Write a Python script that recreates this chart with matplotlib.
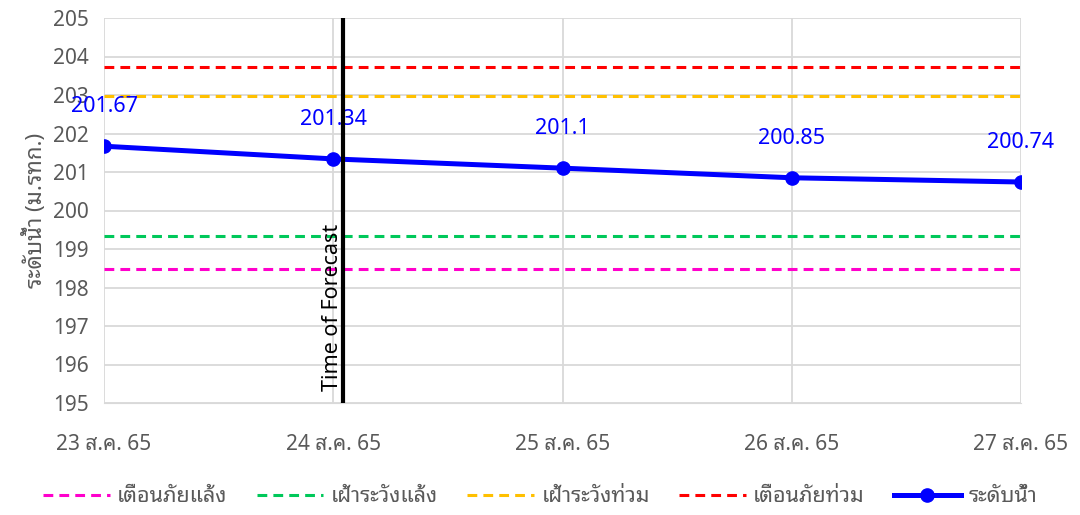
import matplotlib
matplotlib.use('Agg')
import matplotlib.pyplot as plt
import pandas as pd

# dates and water level
dates = ['2022-08-23', '2022-08-24', '2022-08-25', '2022-08-26', '2022-08-27']
date_labels = ['23 ส.ค. 65', '24 ส.ค. 65', '25 ส.ค. 65', '26 ส.ค. 65', '27 ส.ค. 65']
water_level = [201.67, 201.34, 201.1, 200.85, 200.74]
value_labels = ['201.67', '201.34', '201.1', '200.85', '200.74']

# threshold levels
drought_warning = 198.48
drought_watch = 199.34
flood_watch = 202.97
flood_warning = 203.73

forecast_time = '2022-08-24 01:00'

plt.rcParams['font.family'] = ['Noto Sans', 'Noto Sans Thai Looped', 'DejaVu Sans']
gray = '#595959'

x = pd.to_datetime(dates)
fig = plt.figure(figsize=(10.8, 5.15), dpi=100)
ax = fig.add_axes([104 / 1080, 112 / 515, 917 / 1080, 385 / 515])

dash = (3.2, 2)
ax.plot(x, [drought_warning] * len(x), '--', color='#ff00cc', lw=2.2, dashes=dash, label='เตือนภัยแล้ง')
ax.plot(x, [drought_watch] * len(x), '--', color='#00c85a', lw=2.2, dashes=dash, label='เฝ้าระวังแล้ง')
ax.plot(x, [flood_watch] * len(x), '--', color='#ffc000', lw=2.2, dashes=dash, label='เฝ้าระวังท่วม')
ax.plot(x, [flood_warning] * len(x), '--', color='#ff0000', lw=2.2, dashes=dash, label='เตือนภัยท่วม')
ax.plot(x, water_level, '-o', color='#0000ff', lw=3.6, markersize=9.5, label='ระดับน้ำ', zorder=5)

# value labels above points
for xi, yi, s in zip(x, water_level, value_labels):
    ax.annotate(s, (xi, yi), xytext=(0, 21), textcoords='offset points', ha='center', va='bottom',
                color='#0000ff', fontsize=15.5)

ft = pd.Timestamp(forecast_time)
ax.axvline(ft, color='black', lw=3, zorder=6)
ax.text(ft, 195.3, 'Time of Forecast', rotation=90, ha='right', va='bottom', fontsize=15.5, color='black')

ax.set_xlim(x[0], x[-1])
ax.set_ylim(195, 205)
ax.set_yticks(range(195, 206))
ax.set_xticks(x)
ax.set_xticklabels(date_labels)
ax.tick_params(axis='both', length=0, labelsize=15, labelcolor=gray)
ax.tick_params(axis='x', pad=22)
ax.tick_params(axis='y', pad=11)
ax.grid(True, color='#d9d9d9', lw=1.3)
ax.set_axisbelow(True)
for s in ax.spines.values():
    s.set_visible(False)
ax.spines['bottom'].set_visible(True)
ax.spines['bottom'].set_color('#d9d9d9')

ax.set_ylabel('ระดับน้ำ (ม.รทก.)', color=gray, fontsize=16)
ax.yaxis.set_label_coords(-0.062, 0.5)

fig.legend(loc='center', bbox_to_anchor=(0.5, 0.035), ncol=5, frameon=False, fontsize=15.5,
           handlelength=3.1, columnspacing=1.35, handletextpad=0.35, labelcolor=gray)

fig.savefig('out.png')
